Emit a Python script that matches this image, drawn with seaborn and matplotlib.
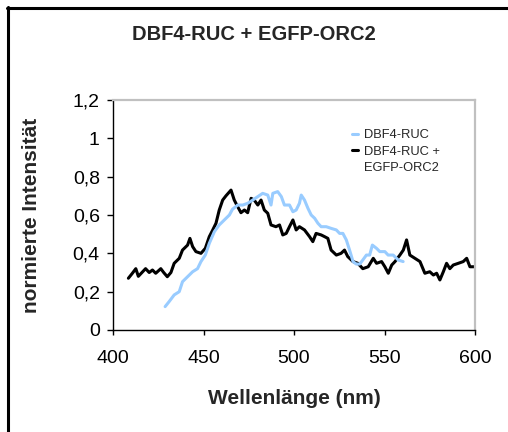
import matplotlib
matplotlib.use("Agg")
import matplotlib.pyplot as plt
from matplotlib.lines import Line2D
import seaborn as sns
import pandas as pd

# ---- data ----
wl_black = [408.5, 410.7, 412.6, 414.0, 416.0, 418.0, 420.0, 421.8, 423.6, 426.4, 428.0, 430.0,
            432.0, 433.8, 436.6, 438.4, 441.2, 442.5, 444.0, 445.8, 448.6, 451.0, 453.2, 455.0,
            456.9, 458.7, 460.6, 462.4, 465.2, 467.0, 468.9, 470.7, 472.6, 474.4, 476.3, 478.0,
            480.0, 481.8, 483.6, 485.5, 487.3, 490.0, 492.0, 493.8, 495.7, 497.5, 499.4, 501.2,
            503.0, 505.8, 508.6, 510.4, 512.2, 515.0, 516.9, 518.7, 520.5, 523.4, 526.0, 527.9,
            529.7, 532.6, 535.3, 538.0, 541.0, 543.8, 545.6, 548.4, 550.2, 552.1, 554.0, 555.8,
            558.5, 560.4, 562.2, 564.0, 566.8, 569.6, 572.3, 575.0, 577.0, 578.8, 580.6, 582.5,
            584.3, 586.1, 588.0, 590.8, 593.5, 595.4, 597.2, 600.0]
int_black = [0.27, 0.296, 0.32, 0.28, 0.30, 0.32, 0.30, 0.313, 0.296, 0.32, 0.30, 0.278,
             0.30, 0.348, 0.374, 0.417, 0.443, 0.478, 0.435, 0.409, 0.40, 0.426, 0.487, 0.52,
             0.557, 0.626, 0.678, 0.70, 0.73, 0.678, 0.643, 0.612, 0.626, 0.612, 0.687, 0.678,
             0.652, 0.678, 0.626, 0.609, 0.548, 0.539, 0.548, 0.496, 0.504, 0.539, 0.574, 0.522,
             0.539, 0.522, 0.487, 0.461, 0.504, 0.496, 0.487, 0.478, 0.417, 0.391, 0.40, 0.417,
             0.383, 0.357, 0.348, 0.32, 0.33, 0.374, 0.348, 0.357, 0.33, 0.296, 0.339, 0.357,
             0.391, 0.417, 0.47, 0.391, 0.374, 0.357, 0.296, 0.304, 0.287, 0.296, 0.261, 0.304,
             0.348, 0.32, 0.339, 0.348, 0.357, 0.374, 0.33, 0.33]

wl_blue = [428.8, 431.0, 433.8, 436.6, 438.4, 441.2, 444.0, 446.7, 448.6, 451.0, 453.2, 456.0,
           458.7, 461.5, 464.3, 466.0, 468.9, 471.7, 474.4, 477.2, 480.0, 482.7, 485.5, 487.3,
           488.3, 491.0, 493.0, 494.7, 497.5, 499.4, 501.2, 503.0, 504.0, 505.8, 507.7, 509.5,
           511.4, 513.2, 515.0, 517.8, 520.6, 523.4, 525.2, 527.0, 528.9, 530.7, 532.6, 534.4,
           536.3, 538.0, 540.0, 541.8, 543.3, 545.6, 547.4, 550.2, 552.0, 554.8, 557.6, 560.3]
int_blue = [0.122, 0.148, 0.183, 0.20, 0.252, 0.278, 0.304, 0.32, 0.357, 0.391, 0.452, 0.513,
            0.548, 0.574, 0.60, 0.63, 0.652, 0.652, 0.661, 0.678, 0.696, 0.713, 0.704, 0.652,
            0.713, 0.722, 0.696, 0.652, 0.652, 0.617, 0.626, 0.661, 0.704, 0.678, 0.635, 0.60,
            0.583, 0.557, 0.539, 0.539, 0.53, 0.522, 0.504, 0.504, 0.47, 0.417, 0.357, 0.344,
            0.344, 0.365, 0.391, 0.391, 0.443, 0.426, 0.409, 0.409, 0.391, 0.391, 0.365, 0.357]

x_ticks = [400, 450, 500, 550, 600]
y_ticks = [0, 0.2, 0.4, 0.6, 0.8, 1.0, 1.2]
y_tick_labels = ["0", "0,2", "0,4", "0,6", "0,8", "1", "1,2"]
title = "DBF4-RUC + EGFP-ORC2"
xlabel = "Wellenlänge (nm)"
ylabel = "normierte Intensität"
label_blue = "DBF4-RUC"
label_black = "DBF4-RUC +"
label_black2 = "EGFP-ORC2"

sns.set_style("white")
plt.rcParams["font.family"] = ["Liberation Sans", "DejaVu Sans"]

W, H = 508, 432
fig = plt.figure(figsize=(W / 100, H / 100), dpi=100)
fig.patch.set_facecolor("white")

ax_l, ax_r, ax_t, ax_b = 113, 475, 100, 330
ax = fig.add_axes([ax_l / W, 1 - ax_b / H, (ax_r - ax_l) / W, (ax_b - ax_t) / H])

blue = "#99CCFF"
df_blue = pd.DataFrame({"wl": wl_blue, "val": int_blue})
df_black = pd.DataFrame({"wl": wl_black, "val": int_black})
sns.lineplot(data=df_black, x="wl", y="val", ax=ax, color="black", linewidth=2.2, zorder=2)
sns.lineplot(data=df_blue, x="wl", y="val", ax=ax, color=blue, linewidth=2.2, zorder=3)

ax.set_xlim(400, 600)
ax.set_ylim(0, 1.2)
ax.set_xticks(x_ticks)
ax.set_xticklabels([str(t) for t in x_ticks])
ax.set_yticks(y_ticks)
ax.set_yticklabels(y_tick_labels)
ax.tick_params(axis="both", labelsize=14, colors="black")
ax.tick_params(axis="x", direction="out", length=3.6, width=1, pad=11, bottom=True)
ax.tick_params(axis="y", direction="out", length=4.5, width=1, pad=5, left=True)

for s in ["left", "bottom"]:
    ax.spines[s].set_color("black")
    ax.spines[s].set_linewidth(1.0)
for s in ["top", "right"]:
    ax.spines[s].set_color("#C0C0C0")
    ax.spines[s].set_linewidth(1.6)
    ax.spines[s].set_visible(True)

ax.set_xlabel(xlabel, fontsize=15, fontweight="bold")
ax.set_ylabel(ylabel, fontsize=15, fontweight="bold")
ax.xaxis.set_label_coords(0.5, (ax_b - 389) / (ax_b - ax_t))
ax.yaxis.set_label_coords((41 - ax_l) / (ax_r - ax_l), 0.5)

handles = [Line2D([], [], color=blue, linewidth=2.2),
           Line2D([], [], color="black", linewidth=2.2),
           Line2D([], [], linestyle="none")]
leg = ax.legend(handles, [label_blue, label_black, label_black2],
                loc="upper left",
                bbox_to_anchor=((352 - ax_l) / (ax_r - ax_l), (ax_b - 129) / (ax_b - ax_t)),
                frameon=False, fontsize=9.3, handlelength=0.5, handletextpad=0.45,
                labelspacing=0.35, borderpad=0, borderaxespad=0)

fig.text(254 / W, 1 - 35 / H, title, ha="center", va="center",
         fontsize=14.5, fontweight="bold")

# outer frame (only top and left edges visible in the reference)
fig.add_artist(Line2D([8 / W, 8 / W], [0, 1 - 7 / H], color="black", linewidth=2.2,
                      transform=fig.transFigure))
fig.add_artist(Line2D([7 / W, 1], [1 - 7.5 / H, 1 - 7.5 / H], color="black", linewidth=2.2,
                      transform=fig.transFigure))

fig.savefig("out.png", dpi=100, facecolor="white")
